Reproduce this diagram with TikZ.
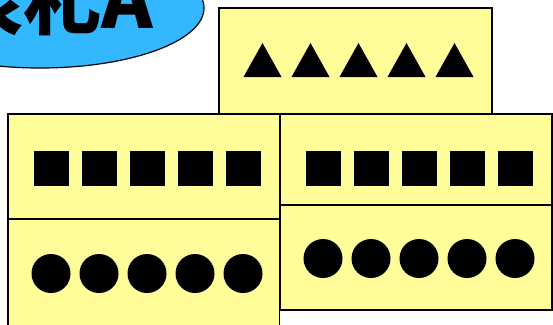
\documentclass[tikz,border=0pt]{standalone}
\usepackage{fontspec}
\newfontfamily\cjk{Noto Sans CJK JP}
\definecolor{paneyellow}{RGB}{255,253,153}
\definecolor{tagblue}{RGB}{51,184,255}
\tikzset{
  panel/.style={draw=black, line width=1.6pt, fill=paneyellow},
  tagshape/.style={draw=black, line width=1.2pt, fill=tagblue},
  glyph/.style={fill=black},
}
\begin{document}
\begin{tikzpicture}[x=1pt,y=-1pt]
\clip (0,0) rectangle (553,324);
\useasboundingbox (0,0) rectangle (553,324);
% name tag ellipse
\draw[tagshape] (40,8) ellipse [x radius=164, y radius=60];
\node[anchor=base, inner sep=0pt, font=\cjk\bfseries\fontsize{78}{78}\selectfont] (tag) at (49,28) {表札A};
% top panel (triangles)
\draw[panel] (219,8) rectangle (492,114);
\foreach \i in {0,...,4}{
  \fill[glyph] (243.5+48*\i,77) -- (281.5+48*\i,77) -- (262.5+48*\i,43) -- cycle;
}
% left panel
\draw[panel] (8,114) rectangle (279.5,340);
\draw[line width=1.6pt] (8,219) -- (279.5,219);
\foreach \i in {0,...,4}{
  \fill[glyph] (33.5+48*\i,151) rectangle (68.5+48*\i,186);
  \fill[glyph] (51+48*\i,273.5) circle [radius=19.5];
}
% right panel
\draw[panel] (280.5,114) rectangle (552,310);
\draw[line width=1.6pt] (280.5,205) -- (552,205);
\foreach \i in {0,...,4}{
  \fill[glyph] (305.5+48*\i,151) rectangle (340.5+48*\i,186);
  \fill[glyph] (323+48*\i,258.5) circle [radius=19.5];
}
\end{tikzpicture}
\end{document}
